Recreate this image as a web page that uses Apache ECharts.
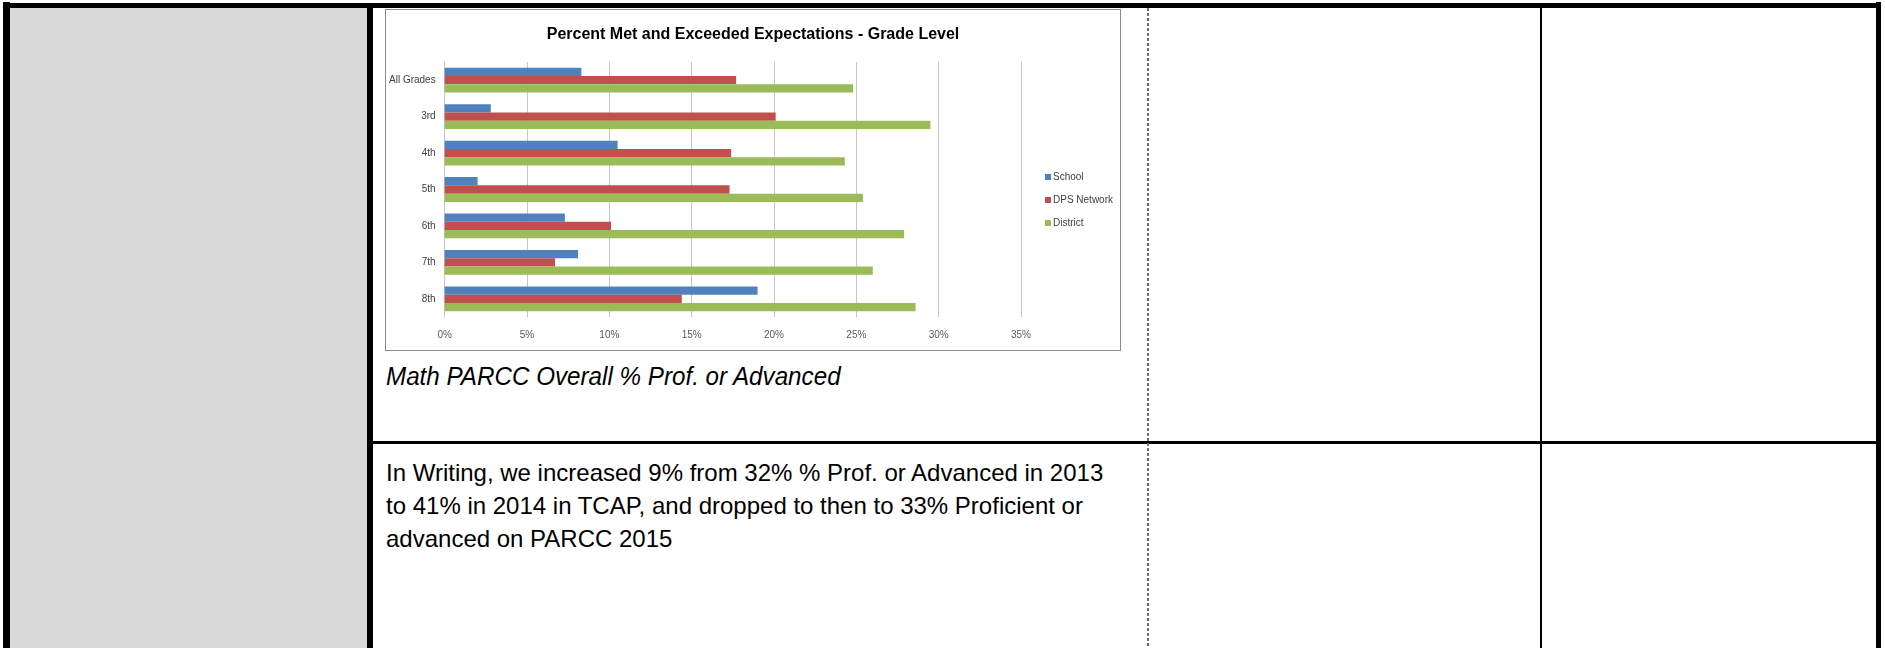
<!DOCTYPE html>
<html><head><meta charset="utf-8">
<script src="https://cdn.jsdelivr.net/npm/echarts@6/dist/echarts.min.js"></script>
<style>
html,body{margin:0;padding:0;width:1885px;height:648px;overflow:hidden;background:#fff;}
.abs{position:absolute;}
.narrow{font-family:"Liberation Sans",Arial,sans-serif;color:#000;white-space:nowrap;}
</style></head><body>
<!-- table frame -->
<div class="abs" style="left:10px;top:8px;width:357px;height:640px;background:#d9d9d9"></div>
<div class="abs" style="left:3px;top:2px;width:7px;height:646px;background:#000"></div>
<div class="abs" style="left:3px;top:3px;width:1878px;height:5px;background:#000"></div>
<div class="abs" style="left:1876px;top:2px;width:5px;height:646px;background:#000"></div>
<div class="abs" style="left:367px;top:8px;width:6px;height:640px;background:#000"></div>
<div class="abs" style="left:373px;top:441px;width:1503px;height:3px;background:#000"></div>
<div class="abs" style="left:1147px;top:8px;width:2px;height:640px;background:repeating-linear-gradient(to bottom,#6e6e6e 0,#6e6e6e 3px,transparent 3px,transparent 5px)"></div>
<div class="abs" style="left:1540px;top:8px;width:2px;height:640px;background:#000"></div>

<!-- chart frame -->
<div class="abs" style="left:385px;top:9px;width:736px;height:342px;box-sizing:border-box;border:1px solid #8c8c8c;background:#fff"></div>
<div id="chart" class="abs" style="left:386px;top:10px;width:734px;height:340px"></div>

<div class="abs narrow" style="left:386px;top:364px;font-size:25px;line-height:25px;font-style:italic;transform:scaleX(0.968);transform-origin:0 0">Math PARCC Overall % Prof. or Advanced</div>
<div class="abs narrow" style="left:386px;top:456px;font-size:24px;line-height:33px">In Writing, we increased 9% from 32% % Prof. or Advanced in 2013<br>to 41% in 2014 in TCAP, and dropped to then to 33% Proficient or<br>advanced on PARCC 2015</div>

<script>
const categories = ['All Grades', '3rd', '4th', '5th', '6th', '7th', '8th'];
const seriesNames = ['School', 'DPS Network', 'District'];
const schoolValues = [8.3, 2.8, 10.5, 2.0, 7.3, 8.1, 19.0];
const dpsNetworkValues = [17.7, 20.1, 17.4, 17.3, 10.1, 6.7, 14.4];
const districtValues = [24.8, 29.5, 24.3, 25.4, 27.9, 26.0, 28.6];
const xMin = 0, xMax = 35, xStep = 5;
const colors = ['#4f81bd', '#c0504d', '#9bbb59'];

const FONT = '"Liberation Sans",Arial,sans-serif';
const chart = echarts.init(document.getElementById('chart'));
const valuesList = [schoolValues, dpsNetworkValues, districtValues];
chart.setOption({
  animation: false,
  textStyle: {fontFamily: FONT},
  title: {
    text: 'Percent Met and Exceeded Expectations - Grade Level',
    left: 'center', top: 12,
    textStyle: {fontSize: 16, fontWeight: 'bold', color: '#000', fontFamily: FONT}
  },
  legend: {
    orient: 'vertical', left: 659, top: 161, padding: 0,
    itemWidth: 6, itemHeight: 6, itemGap: 11, icon: 'rect',
    data: seriesNames,
    textStyle: {fontSize: 10, color: '#404040', lineHeight: 12, fontFamily: FONT, padding: [0, 0, 0, -3]}
  },
  grid: {left: 58, top: 52, width: 577, height: 255},
  xAxis: {
    type: 'value', min: xMin, max: xMax, interval: xStep,
    axisLine: {show: false}, axisTick: {show: false},
    splitLine: {lineStyle: {color: '#c6c6c6', width: 1}},
    axisLabel: {formatter: '{value}%', fontSize: 10, color: '#595959', margin: 13, fontFamily: FONT}
  },
  yAxis: {
    type: 'category', inverse: true, data: categories,
    axisLine: {lineStyle: {color: '#c6c6c6', width: 1}},
    axisTick: {show: false},
    axisLabel: {fontSize: 10, color: '#404040', margin: 9, fontFamily: FONT}
  },
  series: seriesNames.map((n, i) => ({
    name: n, type: 'bar', data: valuesList[i],
    barGap: '0%', barCategoryGap: '32%',
    itemStyle: {color: colors[i]}
  }))
});
</script>
</body></html>
